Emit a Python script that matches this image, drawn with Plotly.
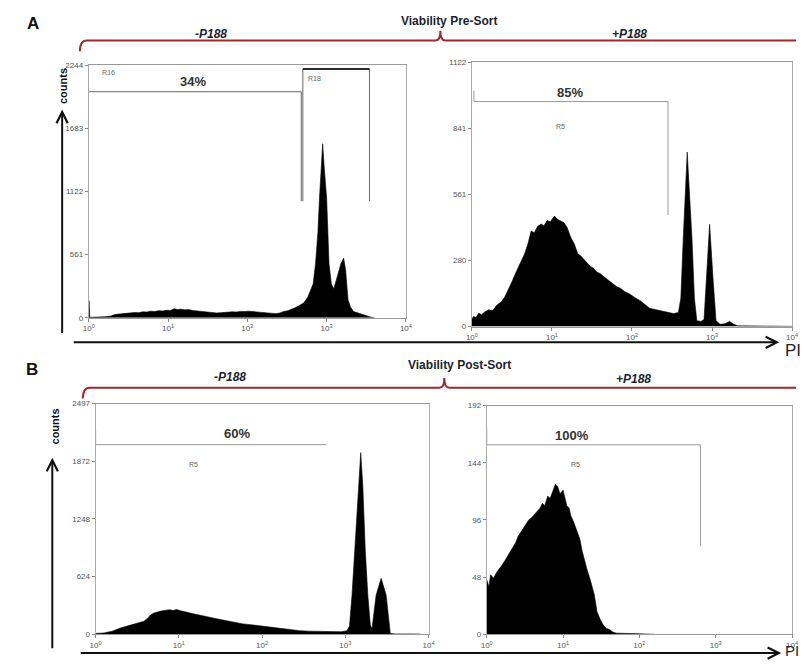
import numpy as np
import plotly.graph_objects as go

W, H = 802, 666

# ---------------- data (log10 fluorescence, counts) ----------------
negpre_log = [0.00, 0.005, 0.012, 0.10, 0.20, 0.28, 0.33, 0.38, 0.43, 0.48, 0.53, 0.58, 0.63, 0.68, 0.73, 0.78,
              0.83, 0.88, 0.93, 0.98, 1.03, 1.08, 1.12, 1.16, 1.21, 1.26, 1.31, 1.36, 1.41, 1.46, 1.51, 1.56,
              1.61, 1.66, 1.71, 1.76, 1.81, 1.86, 1.91, 1.96, 2.01, 2.06, 2.11, 2.16, 2.21, 2.26, 2.31, 2.36,
              2.41, 2.46, 2.51, 2.56, 2.61, 2.66, 2.71, 2.76, 2.80, 2.83, 2.86, 2.89, 2.91, 2.93, 2.95, 2.97,
              3.00, 3.03, 3.06, 3.09, 3.12, 3.15, 3.18, 3.215, 3.24, 3.27, 3.30, 3.34, 3.40, 3.46, 3.52, 3.56, 3.60]
negpre_cnt = [150, 150, 4, 5, 8, 14, 28, 32, 36, 40, 38, 46, 44, 52, 50, 58,
              55, 62, 60, 66, 64, 80, 72, 76, 70, 72, 64, 60, 56, 48, 44, 46,
              42, 44, 48, 46, 52, 50, 56, 54, 58, 55, 52, 48, 50, 44, 40, 36,
              42, 56, 62, 74, 90, 110, 130, 180, 240, 300, 480, 760, 1064, 1350, 1546, 1330,
              1064, 480, 300, 255, 330, 400, 480, 529, 420, 160, 95, 55, 40, 28, 14, 5, 0]

pospre_log = [0.00, 0.02, 0.05, 0.086, 0.12, 0.16, 0.21, 0.26, 0.31, 0.37, 0.41, 0.455, 0.50, 0.55, 0.62, 0.66,
              0.70, 0.74, 0.78, 0.82, 0.865, 0.90, 0.94, 0.98, 1.03, 1.07, 1.11, 1.15, 1.19, 1.235, 1.28, 1.32,
              1.36, 1.40, 1.44, 1.48, 1.52, 1.56, 1.60, 1.65, 1.70, 1.75, 1.81, 1.86, 1.91, 1.96, 2.01, 2.06,
              2.11, 2.16, 2.22, 2.27, 2.32, 2.37, 2.42, 2.47, 2.52, 2.58, 2.61, 2.64, 2.69, 2.75, 2.78, 2.81,
              2.86, 2.90, 2.93, 2.97, 3.01, 3.05, 3.10, 3.16, 3.22, 3.27, 3.32, 3.50, 3.80, 4.00]
pospre_cnt = [30, 43, 38, 57, 50, 62, 71, 68, 90, 106, 125, 155, 190, 230, 280, 310,
              351, 406, 398, 425, 435, 428, 450, 445, 469, 455, 448, 441, 420, 378, 350, 310,
              300, 285, 267, 255, 248, 232, 225, 210, 198, 185, 169, 162, 148, 140, 127, 118,
              108, 96, 78, 74, 70, 65, 60, 58, 55, 60, 120, 370, 741, 370, 120, 25,
              22, 30, 217, 434, 217, 25, 10, 12, 22, 10, 3, 2, 2, 1]

negpost_log = [0.00, 0.10, 0.20, 0.30, 0.40, 0.50, 0.58, 0.62, 0.66, 0.70, 0.75, 0.80, 0.85, 0.893, 0.93, 0.97,
               1.02, 1.06, 1.10, 1.16, 1.22, 1.28, 1.35, 1.40, 1.45, 1.50, 1.55, 1.60, 1.65, 1.71, 1.77, 1.83,
               1.90, 1.95, 2.00, 2.08, 2.16, 2.23, 2.30, 2.38, 2.45, 2.56, 2.70, 2.85, 2.95, 3.02, 3.05, 3.08,
               3.12, 3.16, 3.185, 3.21, 3.24, 3.27, 3.30, 3.32, 3.37, 3.43, 3.49, 3.54, 3.60, 3.75, 3.90]
negpost_cnt = [10, 15, 35, 70, 95, 120, 141, 170, 210, 230, 245, 255, 262, 266, 258, 270,
               255, 250, 238, 225, 212, 200, 185, 178, 170, 160, 150, 142, 130, 122, 113, 108,
               100, 92, 85, 78, 71, 62, 55, 48, 40, 35, 30, 28, 28, 40, 90, 425,
               1000, 1700, 1966, 1600, 900, 425, 100, 60, 425, 606, 425, 10, 5, 5, 3]

pospost_log = [0.00, 0.03, 0.05, 0.09, 0.13, 0.17, 0.20, 0.24, 0.28, 0.31, 0.35, 0.38, 0.41, 0.45, 0.48, 0.52,
               0.55, 0.59, 0.62, 0.65, 0.67, 0.70, 0.73, 0.76, 0.80, 0.83, 0.86, 0.88, 0.90, 0.93, 0.96, 1.00,
               1.03, 1.05, 1.08, 1.10, 1.14, 1.18, 1.22, 1.25, 1.28, 1.316, 1.36, 1.41, 1.445, 1.49, 1.535,
               1.57, 1.61, 1.65, 1.70, 1.80, 2.00, 2.20]
pospost_cnt = [46, 40, 50, 47, 52, 55, 58, 62, 66, 70, 74, 77, 82, 86, 90, 93,
               96, 98, 100, 102, 104, 106, 110, 108, 116, 114, 119, 122, 126, 124, 118, 121,
               114, 108, 106, 100, 94, 87, 80, 70, 62, 54, 45, 33, 19, 12, 7,
               5, 4, 2, 1, 1, 0.5, 0]

xtick_vals = [1, 10, 100, 1000, 10000]
xtick_text = ["10<sup>0</sup>", "10<sup>1</sup>", "10<sup>2</sup>", "10<sup>3</sup>", "10<sup>4</sup>"]
ytick_negpre = [0, 561, 1122, 1683, 2244]
ytick_pospre = [0, 280, 561, 841, 1122]
ytick_negpost = [0, 624, 1248, 1872, 2497]
ytick_pospost = [0, 48, 96, 144, 192]

# gates: (log positions, counts)
gate_r16 = ([2.68, 2.68, 0.0], [1035, 2008, 2008])
gate_r18 = ([2.70, 2.70, 3.54, 3.54], [1035, 2210, 2210, 1035])
gate_pospre = ([0.025, 0.025, 2.45, 2.45], [1001, 955, 955, 473])
gate_negpost = ([0.0, 0.0, 2.77], [2200, 2052, 2052])
gate_pospost = ([0.0, 0.0, 2.80, 2.80], [173, 159, 159, 74])

FONT = "Liberation Sans, Arial, sans-serif"


def px(x):
    return x / W


def py(y):
    return 1 - y / H


fig = go.Figure()

panels = [
    ("x", "y", (84, 406), (62, 318), (negpre_log, negpre_cnt), ytick_negpre),
    ("x2", "y2", (473, 798), (59, 327), (pospre_log, pospre_cnt), ytick_pospre),
    ("x3", "y3", (91, 429), (405, 639), (negpost_log, negpost_cnt), ytick_negpost),
    ("x4", "y4", (488, 798), (407, 639), (pospost_log, pospost_cnt), ytick_pospost),
]

layout_axes = {}
for i, (xa, ya, xd, yd, (lg, cn), yt) in enumerate(panels):
    fig.add_trace(go.Scatter(
        x=10 ** np.array(lg), y=cn, xaxis=xa, yaxis=ya, mode="lines",
        line=dict(color="black", width=0.6), fill="tozeroy", fillcolor="black",
        hoverinfo="skip"))
    xname = "xaxis" if xa == "x" else "xaxis" + xa[1:]
    yname = "yaxis" if ya == "y" else "yaxis" + ya[1:]
    layout_axes[xname] = dict(
        type="log", range=[0, 4], domain=[px(xd[0]), px(xd[1])], anchor=ya,
        tickvals=xtick_vals, ticktext=xtick_text, ticks="outside", ticklen=3,
        tickcolor="#888", tickfont=dict(size=8, color="#555", family=FONT),
        showline=True, linecolor="#999", linewidth=1, mirror=True,
        showgrid=False, zeroline=False, fixedrange=True)
    layout_axes[yname] = dict(
        range=[0, yt[-1]], domain=[py(yd[1]), py(yd[0])], anchor=xa,
        tickvals=yt, ticktext=[str(v) for v in yt], ticks="outside", ticklen=3,
        tickcolor="#888", tickfont=dict(size=8, color="#555", family=FONT),
        showline=True, linecolor="#aaa", linewidth=1, mirror=True,
        showgrid=False, zeroline=False, fixedrange=True)

gates = [
    ("x", "y", gate_r16, "#666", 1),
    ("x", "y", gate_r18, "#666", 1),
    ("x2", "y2", gate_pospre, "#999", 1),
    ("x3", "y3", gate_negpost, "#999", 1),
    ("x4", "y4", gate_pospost, "#999", 1),
]
for xa, ya, (gl, gc), col, w in gates:
    fig.add_trace(go.Scatter(x=10 ** np.array(gl), y=gc, xaxis=xa, yaxis=ya, mode="lines",
                             line=dict(color=col, width=w), hoverinfo="skip"))
fig.add_trace(go.Scatter(x=10 ** np.array(gate_r18[0][1:3]), y=gate_r18[1][1:3], xaxis="x", yaxis="y",
                         mode="lines", line=dict(color="black", width=1.6), hoverinfo="skip"))

ann = []


def text(x, y, s, size=12, bold=False, italic=False, color="#111", xanchor="center", angle=0):
    t = s
    if bold:
        t = "<b>" + t + "</b>"
    if italic:
        t = "<i>" + t + "</i>"
    ann.append(dict(x=px(x), y=py(y), xref="paper", yref="paper", text=t, showarrow=False,
                    font=dict(size=size, color=color, family=FONT), xanchor=xanchor,
                    yanchor="middle", textangle=angle))


text(27, 20, "A", 17, bold=True, color="#111")
text(26, 370, "B", 17, bold=True, color="#111")
text(450, 17, "Viability Pre-Sort", 12, bold=True, color="#1b1f30")
text(460, 366, "Viability Post-Sort", 12, bold=True, color="#1b1f30")
text(208, 30, "-P188", 12, bold=True, italic=True, color="#1b1f30")
text(633, 30, "+P188", 12, bold=True, italic=True, color="#1b1f30")
text(227, 378, "-P188", 12, bold=True, italic=True, color="#1b1f30")
text(637, 380, "+P188", 12, bold=True, italic=True, color="#1b1f30")
text(58, 83, "counts", 11, bold=True, color="#111", angle=-90)
text(50, 428, "counts", 11, bold=True, color="#111", angle=-90)
text(789, 351, "PI", 17, color="#1b1f30", xanchor="left")
text(789, 655, "PI", 15, color="#1b1f30", xanchor="left")

text(95, 69, "R16", 7, color="#666", xanchor="left")
text(190, 79, "34%", 13, bold=True, color="#333")
text(305, 76, "R18", 7, color="#666", xanchor="left")
text(573, 90, "85%", 13, bold=True, color="#333")
text(563, 124, "R5", 7, color="#666")
text(235, 435, "60%", 13, bold=True, color="#333")
text(190, 467, "R5", 7, color="#666")
text(575, 437, "100%", 13, bold=True, color="#333")
text(578, 467, "R5", 7, color="#666")


def arrow(x0, y0, x1, y1):
    ann.append(dict(x=px(x1), y=py(y1), xref="paper", yref="paper", ax=x0 - x1, ay=y0 - y1,
                    axref="pixel", ayref="pixel", text="", showarrow=True, arrowhead=5,
                    arrowsize=1.1, arrowwidth=2, arrowcolor="#111", standoff=0, startstandoff=0))


arrow(57, 332, 57, 107)
arrow(47, 652, 47, 460)
arrow(78, 343, 785, 343)
arrow(85, 658, 787, 658)

RED = "#9e2a2b"


def P(x, y):
    return f"{px(x):.5f} {py(y):.5f}"


shapes = [
    dict(type="path", xref="paper", yref="paper",
         path=f"M {P(75, 48)} Q {P(75, 37)} {P(82, 37)} L {P(436, 37)} Q {P(441, 37)} {P(441, 27)} "
              f"Q {P(441, 37)} {P(446, 37)} L {P(802, 37)}",
         line=dict(color=RED, width=2)),
    dict(type="path", xref="paper", yref="paper",
         path=f"M {P(78, 400)} Q {P(78, 389)} {P(85, 389)} L {P(440, 389)} Q {P(445, 389)} {P(445, 379)} "
              f"Q {P(445, 389)} {P(450, 389)} L {P(802, 389)}",
         line=dict(color=RED, width=2)),
]

fig.update_layout(
    width=W, height=H, margin=dict(l=0, r=0, t=0, b=0),
    paper_bgcolor="white", plot_bgcolor="white", showlegend=False,
    annotations=ann, shapes=shapes, font=dict(family=FONT),
    **layout_axes)

fig.write_html("out.html", config={"displayModeBar": False},
               post_script="document.body.style.margin='0';")
